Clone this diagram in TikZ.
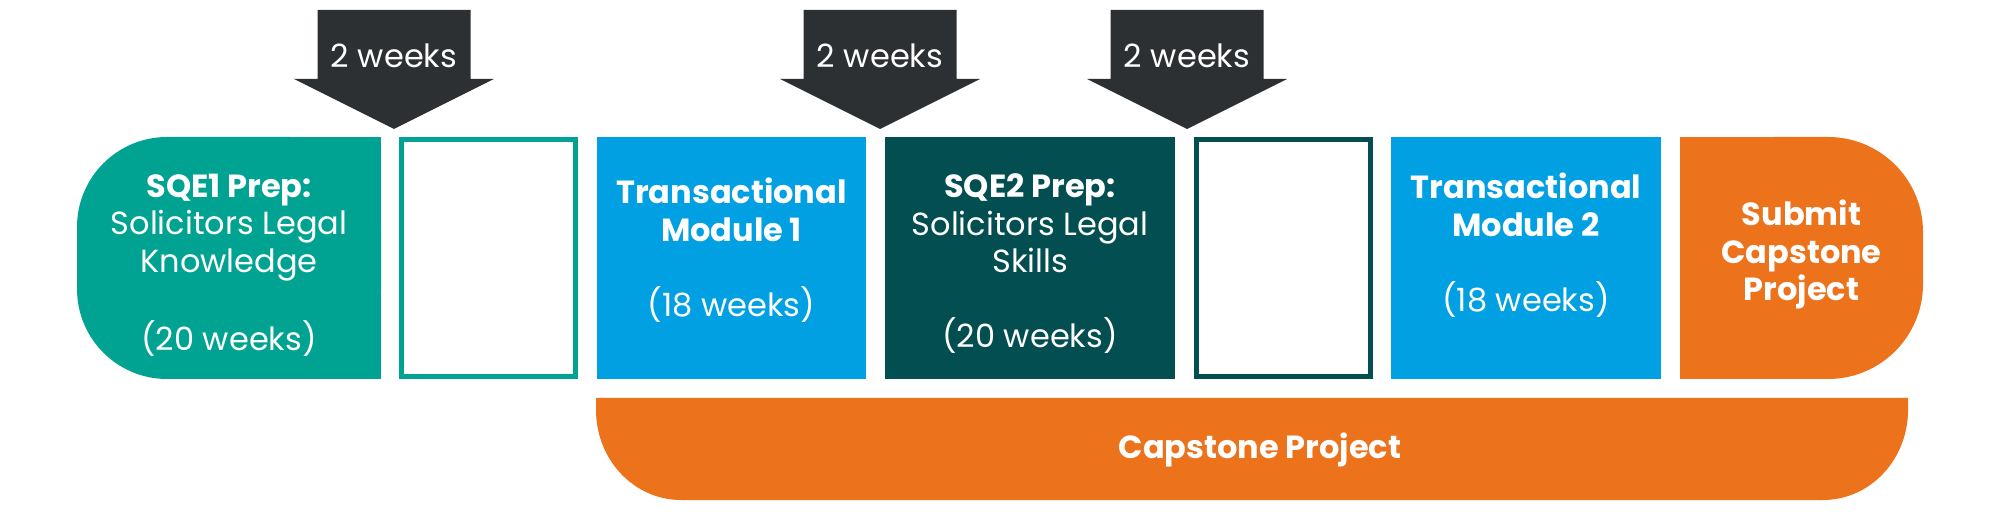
\documentclass[tikz,border=0pt]{standalone}
\usepackage{fontspec}
\setmainfont{Poppins}
\definecolor{cteal}{RGB}{0,163,145}
\definecolor{cblue}{RGB}{0,160,227}
\definecolor{cdark}{RGB}{2,78,80}
\definecolor{corange}{RGB}{236,114,28}
\definecolor{carrow}{RGB}{45,48,50}
\tikzset{
  blk/.style={inner sep=0pt, minimum height=121pt},
  lbl/.style={text=white, align=center, font=\fontsize{16}{18.75}\selectfont},
  wklbl/.style={text=white, font=\fontsize{16}{19}\selectfont},
}
\newcommand{\weekarrow}[2]{%
  \fill[carrow] (#2-76.5,10) -- (#2+76.5,10) -- (#2+76.5,79) -- (#2+100,79) -- (#2,129) -- (#2-100,79) -- (#2-76.5,79) -- cycle;
  \node[wklbl] (#1) at (#2,56) {2 weeks};
}
\begin{document}
\begin{tikzpicture}[x=0.5pt,y=-0.5pt]
\useasboundingbox (0,0) rectangle (2000,517);
% boxes
\node[blk, fill=cteal, rounded corners=45pt, minimum width=152pt] (sqe1) at (229,258) {};
\fill[cteal] (sqe1.north) rectangle (sqe1.south east);
\node[blk, draw=cteal, line width=2.5pt, minimum width=87pt, minimum height=118.5pt] (gap1) at (488.5,258) {};
\node[blk, fill=cblue, minimum width=134.5pt] (tm1) at (731.5,258) {};
\node[blk, fill=cdark, minimum width=145pt] (sqe2) at (1030,258) {};
\node[blk, draw=cdark, line width=2.5pt, minimum width=87pt, minimum height=118.5pt] (gap2) at (1283.5,258) {};
\node[blk, fill=cblue, minimum width=135pt] (tm2) at (1526,258) {};
\node[blk, fill=corange, rounded corners=47.5pt, minimum width=121.5pt] (sub) at (1801.5,258) {};
\fill[corange] (sub.north west) rectangle (sub.south);
% capstone bar
\fill[corange] (596,398) -- (1908,398) -- (1908,410)
  .. controls (1908,459.7) and (1870,500) .. (1823,500) -- (681,500)
  .. controls (634,500) and (596,459.7) .. (596,410) -- cycle;
% texts
\node[lbl] (sqe1t) at (229,265) {{\bfseries SQE1 Prep:}\\Solicitors Legal\\Knowledge\\[18.75pt](20 weeks)};
\node[lbl] (tm1t) at (731.5,250) {{\bfseries Transactional}\\{\bfseries Module 1}\\[18.75pt](18 weeks)};
\node[lbl] (sqe2t) at (1030,264) {{\bfseries SQE2 Prep:}\\Solicitors Legal\\Skills\\[18.75pt](20 weeks)};
\node[lbl] (tm2t) at (1526,245) {{\bfseries Transactional}\\{\bfseries Module 2}\\[18.75pt](18 weeks)};
\node[lbl, font=\bfseries\fontsize{16}{18.75}\selectfont] (subt) at (1801.5,254.5) {Submit\\Capstone\\Project};
\node[lbl, font=\bfseries\fontsize{16}{18.75}\selectfont] (capt) at (1260,449.5) {Capstone Project};
% arrows
\weekarrow{w1}{394}
\weekarrow{w2}{880}
\weekarrow{w3}{1187}
\end{tikzpicture}
\end{document}
